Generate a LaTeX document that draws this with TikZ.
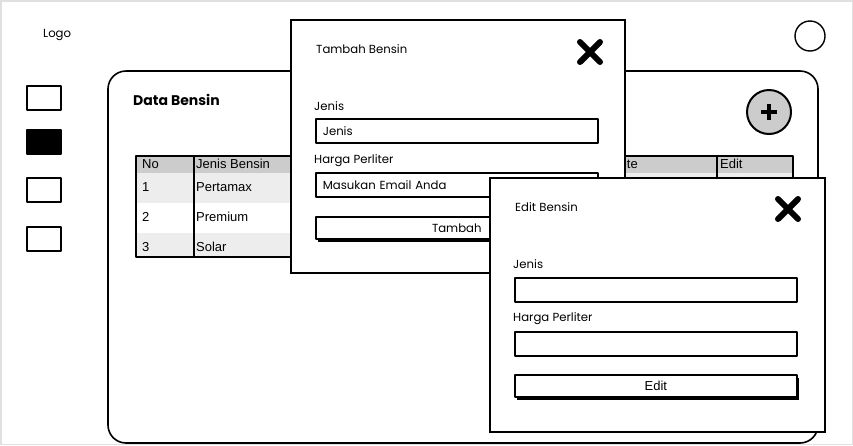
\documentclass[tikz,border=0pt]{standalone}
\usepackage{fontspec}
\setmainfont{Poppins}
\newfontfamily\tablefont{Liberation Sans}
\usetikzlibrary{shadows}

\begin{document}
\begin{tikzpicture}[x=1pt, y=-1pt,
        sketch/.style={line width=1.6pt, line join=round},
        lbl/.style={anchor=west, inner sep=0pt, font=\fontsize{11.7}{14}\selectfont},
        field/.style={sketch, draw, fill=white, anchor=north west, minimum height=24pt,
            text width=268pt, inner xsep=7pt, inner ysep=0pt, align=left, font=\fontsize{11.7}{14}\selectfont},
        btn/.style={sketch, draw, fill=white, anchor=north west, minimum width=282pt, minimum height=22pt,
            inner sep=0pt, font=\fontsize{11.7}{14}\selectfont,
            drop shadow={shadow xshift=2pt, shadow yshift=-3pt, fill=black, opacity=1}},
        dialog/.style={draw, line width=1.8pt, fill=white},
        cell/.style={anchor=west, inner sep=0pt, font=\tablefont\fontsize{13}{15}\selectfont}]
    \useasboundingbox (0,0) rectangle (853,445);
    \draw[black!12, line width=1.5pt] (0.75,0.75) rectangle (852.25,444.25);

    % header
    \node[lbl] (logo) at (43,35) {Logo};
    \draw[line width=1.4pt] (810,36) circle [radius=15];

    % sidebar
    \foreach \y/\f in {86/white, 130/black, 178/white, 227/white} {
        \draw[sketch, fill=\f] (27,\y) rectangle (61,\y+24);
    }

    % main panel
    \draw[sketch, rounded corners=18pt] (108,71) rectangle (818,443);
    \node[anchor=west, inner sep=0pt, font=\bfseries\fontsize{14}{16}\selectfont] (title) at (133,100) {Data Bensin};
    \draw[line width=2pt, fill=black!20] (769,112) circle [radius=22];
    \draw[line width=4pt] (769,104) -- (769,120);
    \draw[line width=4pt] (761,112) -- (777,112);

    % table
    \fill[black!20] (136,156) rectangle (793,173);
    \fill[black!7] (136,173) rectangle (793,203);
    \fill[black!7] (136,233) rectangle (793,257);
    \draw[sketch] (136,156) rectangle (793,257);
    \foreach \x in {194,603,717} {
        \draw[sketch] (\x,156) -- (\x,257);
    }
    \node[cell] (hNo) at (142,164) {No};
    \node[cell] (hJenis) at (196,164) {Jenis Bensin};
    \node[cell] (hDelete) at (600,164) {Delete};
    \node[cell] (hEdit) at (720,164) {Edit};
    \foreach \n/\y/\t in {1/187/Pertamax, 2/217/Premium, 3/247/Solar} {
        \node[cell] (no\n) at (142,\y) {\n};
        \node[cell] (jenis\n) at (196,\y) {\t};
    }

    % dialog tambah
    \draw[dialog] (291,20) rectangle (625,273);
    \node[lbl] (tbTitle) at (316,49) {Tambah Bensin};
    \draw[line width=6pt, line cap=round] (580,42) -- (600,62);
    \draw[line width=6pt, line cap=round] (600,42) -- (580,62);
    \node[lbl] (tbJenisLbl) at (314,106) {Jenis};
    \node[field] (tbJenis) at (315,118) {Jenis};
    \node[lbl] (tbHargaLbl) at (314,161) {Harga Perliter};
    \node[field] (tbHarga) at (315,172) {Masukan Email Anda};
    \node[btn] (tbBtn) at (315,216) {Tambah};

    % dialog edit
    \draw[dialog] (490,178) rectangle (825,432);
    \node[lbl] (edTitle) at (515,207) {Edit Bensin};
    \draw[line width=6pt, line cap=round] (778,199) -- (798,219);
    \draw[line width=6pt, line cap=round] (798,199) -- (778,219);
    \node[lbl] (edJenisLbl) at (513,264) {Jenis};
    \node[field] (edJenis) at (514,277) {};
    \node[lbl] (edHargaLbl) at (513,319) {Harga Perliter};
    \node[field] (edHarga) at (514,331) {};
    \node[btn, font=\tablefont\fontsize{13}{15}\selectfont] (edBtn) at (514,374) {Edit};
\end{tikzpicture}
\end{document}
